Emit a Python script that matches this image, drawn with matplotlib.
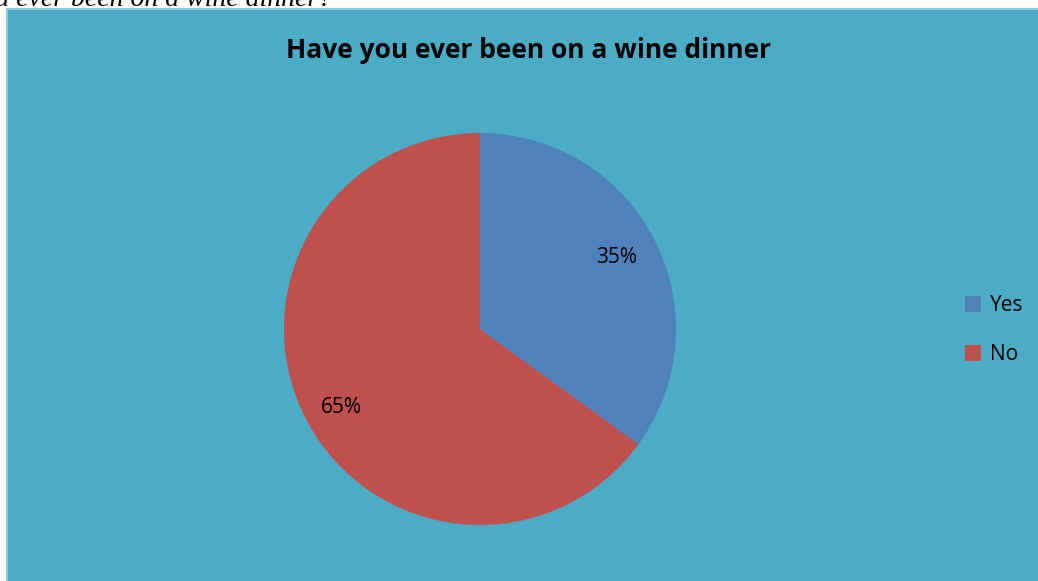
import matplotlib.pyplot as plt
from matplotlib.patches import Rectangle

labels = ["Yes", "No"]
shares = [35, 65]
colors = ["#4F81BD", "#C0504D"]
title = "Have you ever been on a wine dinner"
caption = "you ever been on a wine dinner?"

W, H = 1038, 581


def main():
    fig = plt.figure(figsize=(W / 100, H / 100), dpi=100)
    fig.patch.set_facecolor("white")

    # chart area background with light border
    fig.patches.append(Rectangle((7 / W, -0.01), 1, 1.01 - 9 / H, transform=fig.transFigure,
                                 facecolor="#4BACC6", edgecolor="#8FCBDB", linewidth=1.5,
                                 zorder=-5))

    # caption from the document, cut off at the top
    fig.text(332 / W, 1 - 6 / H, caption, ha="right", va="baseline",
             fontsize=20, style="italic", family="Liberation Serif", color="black")

    fig.text(528 / W, 1 - 50 / H, title, ha="center", va="center",
             fontsize=19, fontweight="bold", family="Open Sans", color="black")

    r = 196
    cx, cy = 480, 329
    ax = fig.add_axes([(cx - r) / W, 1 - (cy + r) / H, 2 * r / W, 2 * r / H])
    wedges, texts, autotexts = ax.pie(
        shares, colors=colors, startangle=90, counterclock=False,
        autopct="%d%%", pctdistance=0.72,
        textprops=dict(fontsize=15, family="Open Sans", color="black"),
        wedgeprops=dict(linewidth=0))
    autotexts[0].set_position(((617 - cx) / r, (cy - 257) / r))
    autotexts[1].set_position(((341 - cx) / r, (cy - 407) / r))
    ax.set_xlim(-1, 1)
    ax.set_ylim(-1, 1)
    ax.set_aspect("equal")

    fig.legend(wedges, labels, loc="center left",
               bbox_to_anchor=(946 / W, 1 - 330 / H), frameon=False,
               handlelength=0.8, handleheight=0.8, labelspacing=1.35,
               handletextpad=0.4,
               prop=dict(family="Open Sans", size=15))

    fig.savefig("out.png", dpi=100)
    plt.close(fig)


if __name__ == "__main__":
    main()
